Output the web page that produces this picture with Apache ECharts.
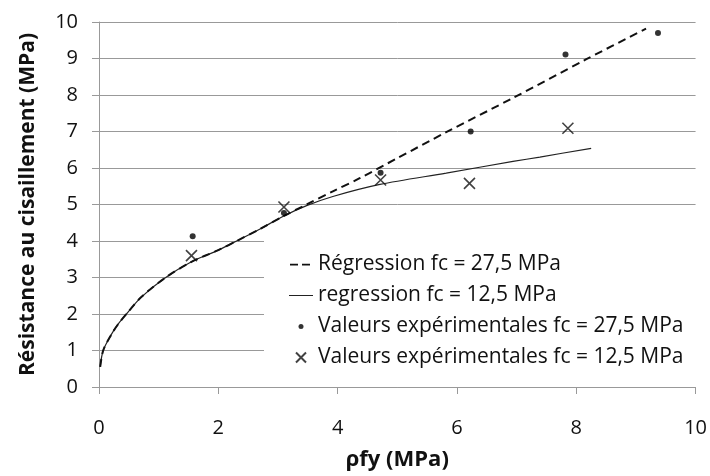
<!DOCTYPE html>
<html>
<head>
<meta charset="utf-8">
<script src="https://cdn.jsdelivr.net/npm/echarts@6/dist/echarts.min.js"></script>
<style>
html,body{margin:0;padding:0;background:#fff;}
#main{width:710px;height:476px;}
</style>
</head>
<body>
<div id="main"></div>
<script>
// regression curves (x = pfy, y = resistance)
var reg275 = [[0.02,0.55],[0.07,1.0],[0.2,1.42],[0.32,1.72],[0.46,2.0],[0.7,2.45],[1.1,2.98],
  [1.55,3.43],[2.0,3.75],[2.33,4.02],[2.7,4.33],[3.09,4.68],[3.48,5.0],[3.92,5.36],
  [4.37,5.72],[4.99,6.26],[5.82,6.98],[6.94,7.92],[8.17,8.98],[9.17,9.82]];
var reg125 = [[0.02,0.55],[0.07,1.0],[0.2,1.42],[0.32,1.72],[0.46,2.0],[0.7,2.45],[1.1,2.98],
  [1.55,3.43],[2.0,3.75],[2.33,4.02],[2.7,4.33],[3.09,4.68],[3.48,4.97],[3.92,5.22],
  [4.71,5.55],[5.82,5.86],[6.94,6.18],[7.39,6.30],[8.25,6.54]];
// experimental values
var exp275 = [[1.57,4.13],[3.1,4.77],[4.72,5.87],[6.23,7.0],[7.82,9.11],[9.37,9.70]];
var exp125 = [[1.55,3.60],[3.1,4.93],[4.72,5.67],[6.21,5.58],[7.86,7.09]];

var names = ['Régression fc = 27,5 MPa','regression fc = 12,5 MPa',
  'Valeurs expérimentales fc = 27,5 MPa','Valeurs expérimentales fc = 12,5 MPa'];

var font = 'Open Sans';
var cross = 'path://M0,0L10,10M10,0L0,10';

// legend icons drawn in a 24x12 box
var iconDash = 'path://M0,0M24,12M1,5.2h8v1.8h-8zM13,5.2h8v1.8h-8z';
var iconLine = 'path://M0,0M24,12M0,5.5h24v1h-24z';
var iconDot = 'path://M0,0M24,12M9.5,6a2.5,2.5 0 1,0 5,0a2.5,2.5 0 1,0 -5,0z';
var iconCross = 'path://M0,0M24,12M7,1L17,11M17,1L7,11';

var chart = echarts.init(document.getElementById('main'));
var option = {
  animation:false,
  textStyle:{fontFamily:font},
  grid:{left:99,right:14,top:22,bottom:78.5},
  legend:{
    orient:'vertical',
    left:264, top:240,
    padding:[14,20,16,24],
    backgroundColor:'#fff',
    itemWidth:24, itemHeight:12, itemGap:10,
    textStyle:{fontFamily:font,fontSize:21,color:'#111'},
    data:[
      {name:names[0],icon:iconDash},
      {name:names[1],icon:iconLine},
      {name:names[2],icon:iconDot},
      {name:names[3],icon:iconCross}
    ]
  },
  xAxis:{
    type:'value', min:0, max:10, interval:2,
    name:'ρfy (MPa)', nameLocation:'middle', nameGap:62,
    nameTextStyle:{fontFamily:font,fontSize:22,fontWeight:'bold',color:'#111'},
    axisLine:{lineStyle:{color:'#999'}},
    axisTick:{show:true,length:7,lineStyle:{color:'#999'}},
    axisLabel:{fontFamily:font,fontSize:20,color:'#111',margin:31},
    splitLine:{show:false}
  },
  yAxis:{
    type:'value', min:0, max:10, interval:1,
    name:'Résistance au cisaillement (MPa)', nameLocation:'middle', nameGap:60,
    nameTextStyle:{fontFamily:font,fontSize:21,fontWeight:'bold',color:'#111'},
    axisLine:{show:true,lineStyle:{color:'#999'}},
    axisTick:{show:true,length:7,lineStyle:{color:'#999'}},
    axisLabel:{fontFamily:font,fontSize:20,color:'#111',margin:21},
    splitLine:{lineStyle:{color:'#999',width:1}}
  },
  series:[
    {
      name:names[1], type:'line', data:reg125, smooth:0.3, symbol:'none', z:2,
      lineStyle:{color:'#222',width:1.2}, itemStyle:{color:'#222'}
    },
    {
      name:names[0], type:'line', data:reg275, smooth:0.3, symbol:'none', z:3,
      lineStyle:{color:'#111',width:2,type:[8,5]}, itemStyle:{color:'#111'}
    },
    {
      name:names[2], type:'scatter', data:exp275, symbol:'circle', symbolSize:6, z:4,
      itemStyle:{color:'#000'}
    },
    {
      name:names[3], type:'scatter', data:exp125, symbol:cross, symbolSize:11, z:4,
      itemStyle:{color:'transparent',borderColor:'#111',borderWidth:1.6}
    }
  ]
};
chart.setOption(option);
</script>
</body>
</html>
